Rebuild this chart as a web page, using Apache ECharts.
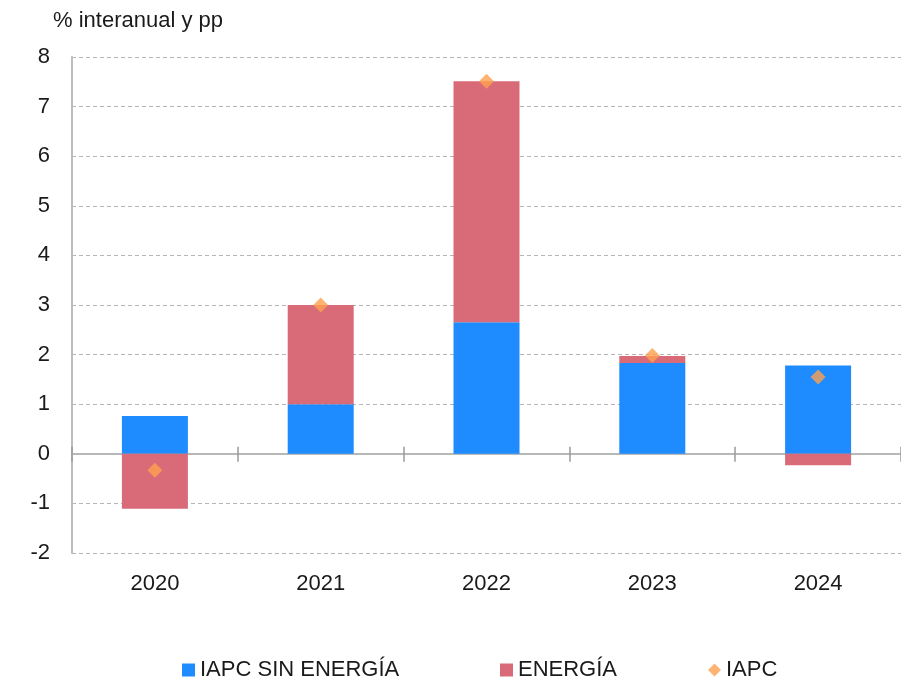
<!DOCTYPE html>
<html>
<head>
<meta charset="utf-8" />
<title>IAPC</title>
<script type="text/javascript" src="https://cdn.jsdelivr.net/npm/echarts@6/dist/echarts.min.js"></script>
<style>
html, body { margin: 0; padding: 0; background: #fff; }
#chart { width: 901px; height: 682px; }
</style>
</head>
<body>
<div id="chart"></div>
<script type="text/javascript">
    // datos
    var years = ['2020', '2021', '2022', '2023', '2024'];
    var sinEnergia = [0.76, 1.0, 2.65, 1.83, 1.78];
    var energia = [-1.11, 2.0, 4.86, 0.14, -0.23];
    var iapc = [-0.33, 3.0, 7.51, 1.98, 1.55];
    var yTicks = [-2, -1, 0, 1, 2, 3, 4, 5, 6, 7, 8];

    var font = "'Liberation Sans', Arial, sans-serif";
    var legendText = { fontSize: 22, color: '#1a1a1a', fontFamily: font };
    var myChart = echarts.init(document.getElementById('chart'));

    // una leyenda por serie para colocarlas como en el original
    function leyenda(nombre, icono, x) {
        return {
            left: x,
            top: 654,
            itemWidth: 13,
            itemHeight: 13,
            itemGap: 0,
            textStyle: legendText,
            data: [{ name: nombre, icon: icono }]
        };
    }

    myChart.setOption({
        animation: false,
        textStyle: { fontFamily: font },
        title: {
            text: '% interanual y pp',
            left: 48,
            top: 5,
            textStyle: { fontSize: 22, fontWeight: 'normal', color: '#1a1a1a', fontFamily: font }
        },
        legend: [
            leyenda('IAPC SIN ENERGÍA', 'rect', 177),
            leyenda('ENERGÍA', 'rect', 495),
            leyenda('IAPC', 'diamond', 703)
        ],
        grid: {
            left: 72,
            right: 0,
            top: 57,
            bottom: 129
        },
        xAxis: [
            {
                type: 'category',
                data: years,
                position: 'bottom',
                axisLine: { show: false, onZero: false },
                axisTick: { show: false },
                axisLabel: { fontSize: 22, color: '#1a1a1a', margin: 20, fontFamily: font }
            },
            {
                // linea del cero con marcas hacia abajo
                type: 'category',
                data: years,
                position: 'bottom',
                axisLine: { show: true, onZero: true, onZeroAxisIndex: 0, lineStyle: { color: '#b8b8b8', width: 2 } },
                axisTick: { show: true, length: 8, lineStyle: { color: '#9a9a9a', width: 1.5 } },
                axisLabel: { show: false }
            },
            {
                // marcas hacia arriba
                type: 'category',
                data: years,
                position: 'bottom',
                axisLine: { show: true, onZero: true, onZeroAxisIndex: 0, lineStyle: { color: '#b8b8b8', width: 2 } },
                axisTick: { show: true, inside: true, length: 7, lineStyle: { color: '#9a9a9a', width: 1.5 } },
                axisLabel: { show: false }
            }
        ],
        yAxis: {
            type: 'value',
            min: yTicks[0],
            max: yTicks[yTicks.length - 1],
            interval: 1,
            axisLine: { show: true, lineStyle: { color: '#bdbdbd', width: 2 } },
            axisTick: { show: false },
            axisLabel: { fontSize: 22, color: '#1a1a1a', margin: 22, fontFamily: font },
            splitLine: { show: true, lineStyle: { color: '#b5b5b5', type: [4, 3], width: 1 } }
        },
        series: [
            {
                name: 'IAPC SIN ENERGÍA',
                type: 'bar',
                stack: 'total',
                barWidth: 66,
                itemStyle: { color: '#1e8cff' },
                data: sinEnergia
            },
            {
                name: 'ENERGÍA',
                type: 'bar',
                stack: 'total',
                barWidth: 66,
                itemStyle: { color: '#d96b78' },
                data: energia
            },
            {
                name: 'IAPC',
                type: 'scatter',
                symbol: 'diamond',
                symbolSize: 15,
                itemStyle: { color: '#ffa050' },
                z: 5,
                data: iapc
            }
        ]
    });
</script>
</body>
</html>
